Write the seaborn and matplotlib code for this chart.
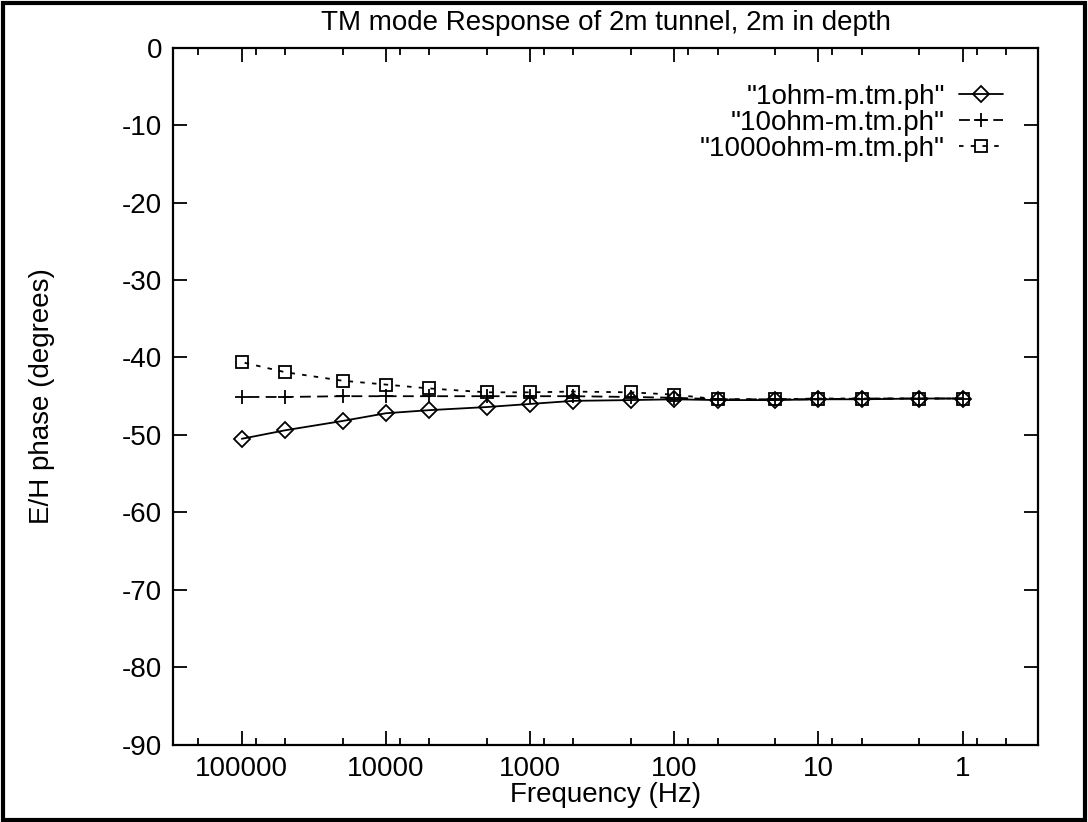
import numpy as np
import pandas as pd
import seaborn as sns
import matplotlib.pyplot as plt
from matplotlib.ticker import LogLocator, FixedLocator, FuncFormatter, NullFormatter, MultipleLocator
from matplotlib.patches import Rectangle

# frequencies (Hz) and E/H phase (degrees) for each resistivity
freqs = [100000, 50000, 20000, 10000, 5000, 2000, 1000, 500, 200, 100, 50, 20, 10, 5, 2, 1]
phase_1ohm = [-50.5, -49.4, -48.2, -47.2, -46.8, -46.4, -46.0, -45.6, -45.5, -45.4,
              -45.5, -45.5, -45.4, -45.4, -45.3, -45.3]
phase_10ohm = [-45.1, -45.1, -45.0, -45.0, -45.0, -45.0, -45.0, -45.0, -45.1, -45.2,
               -45.4, -45.4, -45.4, -45.3, -45.3, -45.3]
phase_1000ohm = [-40.6, -41.9, -43.0, -43.5, -44.0, -44.5, -44.5, -44.4, -44.5, -44.8,
                 -45.4, -45.4, -45.3, -45.3, -45.3, -45.3]
labels = ['"1ohm-m.tm.ph"', '"10ohm-m.tm.ph"', '"1000ohm-m.tm.ph"']
xticks = [100000, 10000, 1000, 100, 10, 1]

sns.set_style('ticks')
plt.rcParams['font.family'] = ['Liberation Sans', 'DejaVu Sans']
plt.rcParams['font.size'] = 20
plt.rcParams['axes.unicode_minus'] = False
plt.rcParams['text.color'] = 'black'
plt.rcParams['axes.labelcolor'] = 'black'
plt.rcParams['xtick.color'] = 'black'
plt.rcParams['ytick.color'] = 'black'

fig = plt.figure(figsize=(10.88, 8.22), dpi=100)
ax = fig.add_axes([0.159, 0.094, 0.795, 0.848])

styles = [
    dict(marker='D', markersize=8, linestyle='-'),
    dict(marker='+', markersize=9.5, linestyle=(0, (6, 3.5))),
    dict(marker='s', markersize=9, linestyle=(0, (2.5, 4))),
]
for vals, lab, st in zip([phase_1ohm, phase_10ohm, phase_1000ohm], labels, styles):
    df = pd.DataFrame({'freq': freqs, 'phase': vals})
    sns.lineplot(data=df, x='freq', y='phase', ax=ax, color='black', linewidth=1.3,
                 markerfacecolor='none', markeredgecolor='black', markeredgewidth=1.3,
                 label=lab, **st)

ax.set_xscale('log')
ax.set_xlim(3e5, 0.3)
ax.set_ylim(-90, 0)
ax.xaxis.set_major_locator(FixedLocator(xticks))
ax.xaxis.set_minor_locator(LogLocator(base=10, subs=[2, 5, 8], numticks=20))
ax.xaxis.set_major_formatter(FuncFormatter(lambda v, p: f'{v:g}'))
ax.xaxis.set_minor_formatter(NullFormatter())
ax.yaxis.set_major_locator(MultipleLocator(10))

ax.tick_params(which='both', direction='in', top=True, right=True, width=1.3, labelsize=20, pad=8)
ax.tick_params(which='major', length=10)
ax.tick_params(which='minor', length=5)
for s in ax.spines.values():
    s.set_linewidth(1.6)
    s.set_color('black')

ax.set_xlabel('Frequency (Hz)', fontsize=20, labelpad=0)
ax.set_ylabel('E/H phase (degrees)', fontsize=20, labelpad=48)
fig.text(0.5565, 0.972, 'TM mode Response of 2m tunnel, 2m in depth', fontsize=20,
         ha='center', va='center')

leg = ax.legend(loc='upper right', bbox_to_anchor=(0.96, 0.948), frameon=False,
                markerfirst=False, handlelength=1.6, fontsize=20, borderaxespad=0,
                borderpad=0, labelspacing=0.0, handletextpad=0.5)

fig.add_artist(Rectangle((0.003, 0.003), 0.994, 0.993, transform=fig.transFigure,
                         fill=False, linewidth=3, edgecolor='black'))

fig.savefig('out.png', dpi=100)
